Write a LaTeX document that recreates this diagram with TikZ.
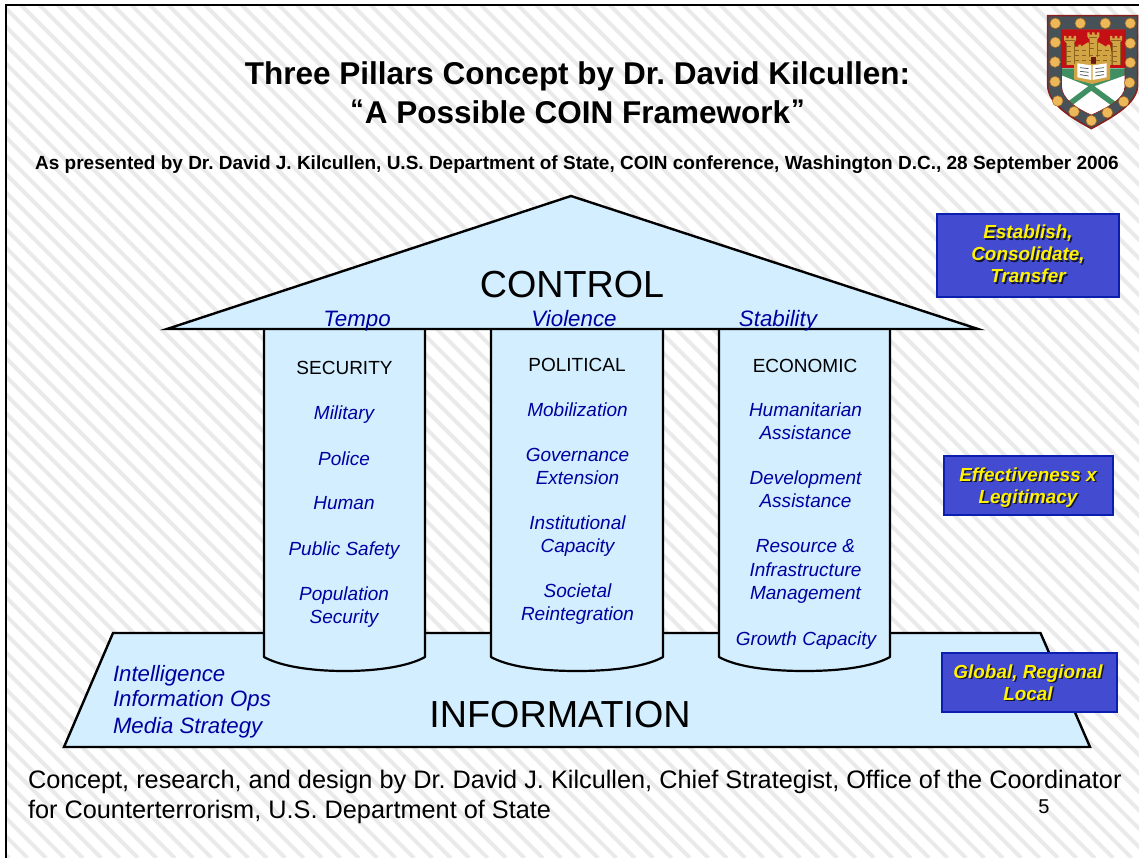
\documentclass[tikz,border=0pt]{standalone}
\usepackage{fontspec}
\setmainfont{Liberation Sans}
\frenchspacing
\definecolor{stripe}{HTML}{EAEAEA}
\definecolor{sky}{HTML}{D2EEFF}
\definecolor{skymid}{HTML}{E9F6FF}
\definecolor{ink}{HTML}{0000A0}
\definecolor{boxfill}{HTML}{434BD1}
\definecolor{boxline}{HTML}{0A1FAE}
\definecolor{shred}{HTML}{C40F14}
\definecolor{shrim}{HTML}{8A1E1A}
\definecolor{shslate}{HTML}{465257}
\definecolor{shgold}{HTML}{EDB85A}
\definecolor{shrimg}{HTML}{A8661E}
\definecolor{shtan}{HTML}{D3A444}
\definecolor{shbrown}{HTML}{8A6420}
\definecolor{shgreen}{HTML}{3F8F63}
\tikzset{
  lbl/.style={inner sep=0pt,outer sep=0pt,anchor=base},
  stripeline/.style={draw=stripe,line width=4pt},
  frameline/.style={draw=black,line width=2pt},
  slab/.style={draw=black,line width=2.4pt,fill=sky,line join=miter},
  pillar/.style={draw=black,line width=2.2pt,left color=sky,middle color=skymid,right color=sky,line join=round},
  item/.style={lbl,align=center,text=ink,font=\fontsize{19}{22.4}\selectfont\itshape},
  caps/.style={lbl,text=black,font=\fontsize{19}{22}\selectfont},
  tempo/.style={lbl,text=ink,font=\fontsize{22.3}{25}\selectfont\itshape},
  side/.style={lbl,anchor=base west,text=ink,font=\fontsize{22.2}{26}\selectfont\itshape},
  big/.style={lbl,text=black,font=\fontsize{37.7}{40}\selectfont},
  titlefont/.style={lbl,text=black,font=\fontsize{31.5}{36}\selectfont\bfseries},
  foot/.style={lbl,anchor=base west,text=black,font=\fontsize{25.3}{30}\selectfont},
  tagbox/.style={draw=boxline,line width=2pt,fill=boxfill},
  tagtext/.style={lbl,align=center,text=yellow,font=\fontsize{18.9}{22}\selectfont\bfseries\itshape},
  tagshade/.style={lbl,align=center,text=black!75!boxfill,font=\fontsize{18.9}{22}\selectfont\bfseries\itshape},
  stud/.style={fill=shgold,draw=shrimg,line width=0.5pt},
  masonry/.style={draw=shbrown,line width=0.6pt},
}
\newcommand{\tagline}[4]{%
  \node[tagshade] (#1s) at (#2+1.5,#3+1.5) {#4};
  \node[tagtext] (#1) at (#2,#3) {#4};}
\newcommand{\smallquote}[1]{\raisebox{4.5pt}{\fontsize{27}{27}\selectfont #1}}
\begin{document}
\begin{tikzpicture}[x=1pt,y=-1pt]
\useasboundingbox (0,0) rectangle (1139,858);
% background
\begin{scope}
\clip (6,5) rectangle (1139,858);
\foreach \c in {-848.8,-830.4,...,1140}
  \draw[stripeline] (\c,0) -- (\c+858,858);
\end{scope}
\draw[frameline] (6.3,858) -- (6.3,5) -- (1139,5);
% base
\draw[slab] (113,633) -- (1040.5,633) -- (1090,747) -- (64,747) -- cycle;
% pillars
\draw[pillar] (264,329) -- (264,657) .. controls (280,666) and (310,671) .. (344.5,671) .. controls (379,671) and (409,666) .. (425,657) -- (425,329);
\draw[pillar] (491,329) -- (491,657) .. controls (507,666) and (537,671) .. (577,671) .. controls (617,671) and (647,666) .. (663,657) -- (663,329);
\draw[pillar] (719,329) -- (719,657) .. controls (735,666) and (765,671) .. (804.5,671) .. controls (844,671) and (874,666) .. (890,657) -- (890,329);
% roof
\draw[slab] (571,196) -- (978,329) -- (167,329) -- cycle;
% titles
\node[titlefont] (title1) at (577.5,84.5) {Three Pillars Concept by Dr. David Kilcullen:};
\node[titlefont] (title2) at (577.5,123.5) {\smallquote{“}\kern1pt A Possible COIN Framework\kern1pt\smallquote{”}};
\node[lbl,text=black,font=\fontsize{19}{22}\selectfont\bfseries] (sub) at (577,170) {As presented by Dr. David J. Kilcullen, U.S. Department of State, COIN conference, Washington D.C., 28 September 2006};
% roof text
\node[big] (control) at (572,298) {CONTROL};
\node[tempo] (tempo) at (357,326) {Tempo};
\node[tempo] (violence) at (574,326) {Violence};
\node[tempo] (stability) at (778,326) {Stability};
% pillar 1
\node[caps] (security) at (344.5,374) {SECURITY};
\node[item] (military) at (344,419.3) {Military};
\node[item] (police) at (344,465.3) {Police};
\node[item] (human) at (344,509.3) {Human};
\node[item] (safety) at (344,555.3) {Public Safety};
\node[item] (popsec) at (344,623.3) {Population\\Security};
% pillar 2
\node[caps] (political) at (577,371) {POLITICAL};
\node[item] (mobil) at (577.5,416.3) {Mobilization};
\node[item] (govern) at (577.5,484.3) {Governance\\Extension};
\node[item] (instit) at (577.5,552.3) {Institutional\\Capacity};
\node[item] (societal) at (577.5,620.3) {Societal\\Reintegration};
% pillar 3
\node[caps] (economic) at (805,372) {ECONOMIC};
\node[item] (human2) at (805.5,439.3) {Humanitarian\\Assistance};
\node[item] (devel) at (805.5,507.3) {Development\\Assistance};
\node[item] (resource) at (805.5,599.3) {Resource \&\\[1.6pt]Infrastructure\\Management};
\node[item] (growth) at (806,645.3) {Growth Capacity};
% base text
\node[side] (intel) at (113,681) {Intelligence};
\node[side] (infoops) at (113,706) {Information Ops};
\node[side] (media) at (113,733) {Media Strategy};
\node[big] (information) at (560,727) {INFORMATION};
% tags
\draw[tagbox] (937,214.5) rectangle (1119,297);
\draw[tagbox] (944,456) rectangle (1113,515);
\draw[tagbox] (941.5,652.5) rectangle (1116.5,711.5);
\tagline{tagA}{1028}{283}{Establish,\\Consolidate,\\Transfer}
\tagline{tagB}{1028}{503}{Effectiveness x\\Legitimacy}
\tagline{tagC}{1028}{700}{Global, Regional\\Local}
% footer
\node[foot] (footA) at (28,788) {Concept, research, and design by Dr. David J. Kilcullen, Chief Strategist, Office of the Coordinator};
\node[foot] (footB) at (28,818) {for Counterterrorism, U.S. Department of State};
\node[lbl,text=black,font=\fontsize{20}{24}\selectfont] (pagenum) at (1044,813) {5};
% crest
\begin{scope}[xshift=1000pt,x=0.3333pt,y=-0.3333pt]
\fill[shslate,draw=shrim,line width=1.5pt] (143,47) -- (413,47) -- (413,255) .. controls (413,310) and (340,350) .. (274,386) .. controls (208,350) and (143,310) .. (143,255) -- cycle;
\begin{scope}
\path[clip] (185,88) -- (375,88) -- (375,260) .. controls (375,295) and (320,325) .. (274,345) .. controls (228,325) and (185,295) .. (185,260) -- cycle;
\fill[white] (185,88) rectangle (375,350);
\fill[shred] (185,88) rectangle (375,205);
\fill[shgreen] (185,205) -- (375,205) -- (375,226) -- (274,262) -- (185,226) -- cycle;
\draw[shgreen,line width=5.5pt] (274,262) -- (200,318);
\draw[shgreen,line width=5.5pt] (274,262) -- (350,318);
\end{scope}
\draw[shrim,line width=0.6pt] (185,88) -- (375,88) -- (375,260) .. controls (375,295) and (320,325) .. (274,345) .. controls (228,325) and (185,295) .. (185,260) -- cycle;
% castle: curtain wall, then three towers with flared crowns
\fill[shtan] (225,160) -- (225,140) -- (235,140) -- (235,134) -- (243,134) -- (243,140) -- (262,128) -- (298,128) -- (318,140) -- (322,134) -- (330,134) -- (335,160) -- (335,195) -- (225,195) -- cycle;
\fill[shtan] (198,128) -- (192,120) -- (192,108) -- (199,108) -- (199,115) -- (206,115) -- (206,108) -- (214,108) -- (214,115) -- (221,115) -- (221,108) -- (228,108) -- (228,120) -- (222,128) -- (222,195) -- (198,195) -- cycle;
\fill[shtan] (268,118) -- (262,110) -- (262,97) -- (269,97) -- (269,104) -- (276,104) -- (276,97) -- (284,97) -- (284,104) -- (291,104) -- (291,97) -- (298,97) -- (298,110) -- (292,118) -- (292,190) -- (268,190) -- cycle;
\fill[shtan] (336,128) -- (330,120) -- (330,108) -- (337,108) -- (337,115) -- (344,115) -- (344,108) -- (352,108) -- (352,115) -- (359,115) -- (359,108) -- (366,108) -- (366,120) -- (360,128) -- (360,195) -- (336,195) -- cycle;
\draw[masonry] (198,128) -- (198,195) (222,128) -- (222,195) (268,118) -- (268,170) (292,118) -- (292,170) (336,128) -- (336,195) (360,128) -- (360,195);
\draw[masonry] (194,121) -- (226,121) (268,111) -- (292,111) (332,121) -- (364,121);
\draw[masonry,dash pattern=on 4pt off 3pt] (200,140) -- (220,140) (200,155) -- (220,155) (200,170) -- (220,170) (200,184) -- (220,184) (338,140) -- (358,140) (338,155) -- (358,155) (338,170) -- (358,170) (338,184) -- (358,184) (270,130) -- (290,130) (270,145) -- (290,145) (225,150) -- (266,150) (294,150) -- (334,150) (225,165) -- (334,165) (225,180) -- (334,180);
\fill[shrim!80!black] (272,170) rectangle (288,192);
% book
\fill[shtan] (222,192) -- (330,192) -- (330,238) -- (276,252) -- (222,238) -- cycle;
\fill[white] (232,190) -- (274,196) -- (274,240) -- (232,232) -- cycle;
\fill[white] (278,196) -- (320,190) -- (320,232) -- (278,240) -- cycle;
\draw[shslate,line width=0.7pt] (240,203) -- (266,206) (240,214) -- (266,217) (240,224) -- (266,228) (286,206) -- (312,203) (286,217) -- (312,214) (286,228) -- (312,224);
% studs
\foreach \p in {(166,70),(241,70),(316,70),(391,70),(166,127),(391,130),(165,186),(391,188),(165,245),(389,248),(173,303),(371,305),(222,335),(322,338),(274,362)}
  \draw[stud] \p circle[radius=16];
\end{scope}
\end{tikzpicture}
\end{document}
